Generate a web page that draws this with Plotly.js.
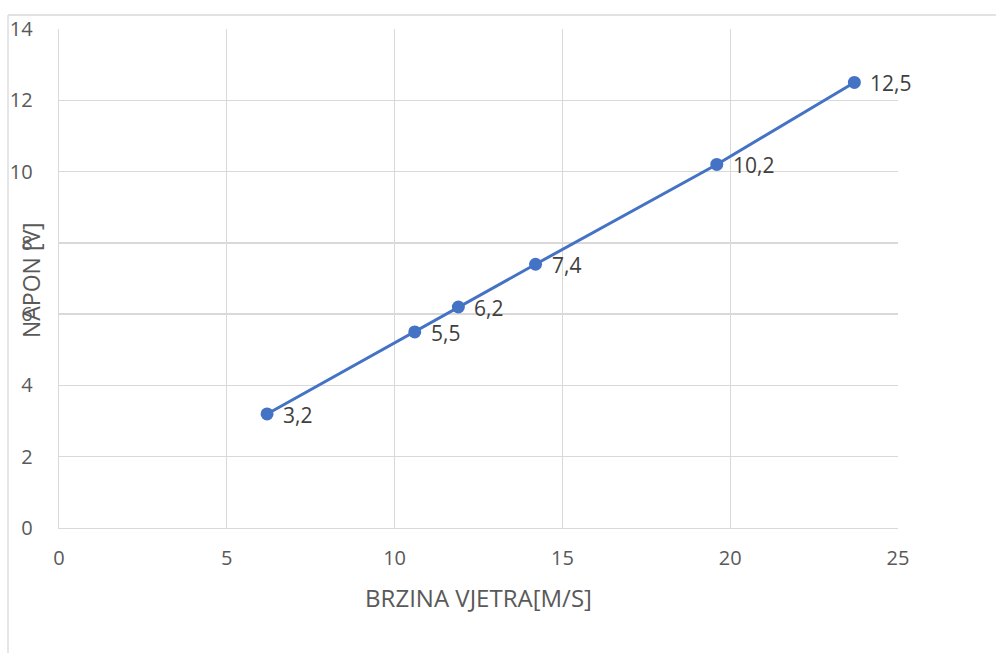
<!DOCTYPE html>
<html><head><meta charset="utf-8">
<script src="https://cdn.plot.ly/plotly-3.0.1.min.js"></script>
<style>html,body{margin:0;padding:0;background:#fff}#c{width:996px;height:653px}</style>
</head><body><div id="c"></div>
<script>
const windSpeed = [6.2, 10.6, 11.9, 14.2, 19.6, 23.7];
const voltage = [3.2, 5.5, 6.2, 7.4, 10.2, 12.5];
const xTitle = 'BRZINA VJETRA[M/S]';
const yTitle = 'NAPON [V]';

const FONT = '"Open Sans", sans-serif';
const trace = {
  x: windSpeed, y: voltage, type: 'scatter', mode: 'lines+markers',
  line: {color: '#4472C4', width: 3},
  marker: {color: '#4472C4', size: 13},
  hoverinfo: 'x+y', showlegend: false
};
const labelAnns = windSpeed.map((x, i) => ({
  x: x, y: voltage[i], xref: 'x', yref: 'y', showarrow: false,
  text: String(voltage[i]).replace('.', ','), xanchor: 'left', yanchor: 'middle',
  xshift: 14, yshift: -1, font: {family: FONT, size: 21, color: '#404040'}
}));
const layout = {
  width: 996, height: 653,
  margin: {l: 59, r: 98, t: 29, b: 125},
  paper_bgcolor: '#fff', plot_bgcolor: '#fff',
  font: {family: FONT, color: '#595959', size: 20},
  xaxis: {range: [0, 25], dtick: 5, tick0: 0, showgrid: true, gridcolor: '#d9d9d9', gridwidth: 1.3,
    zeroline: false, showline: true, linecolor: '#d9d9d9', linewidth: 1.3, mirror: false,
    ticks: '', ticklabelstandoff: 12, tickfont: {family: FONT, size: 20, color: '#595959'},
    title: {text: xTitle, font: {family: FONT, size: 24, color: '#595959'}, standoff: 20}},
  yaxis: {range: [0, 14], dtick: 2, tick0: 0, showgrid: true, gridcolor: '#d9d9d9', gridwidth: 1.3,
    zeroline: false, showline: true, linecolor: '#d9d9d9', linewidth: 1.3,
    ticks: '', ticklabelstandoff: 21, tickfont: {family: FONT, size: 20, color: '#595959'}},
  annotations: labelAnns.concat([{
    text: yTitle, textangle: -90, xref: 'paper', yref: 'paper',
    x: (31 - 59) / 839, y: (528 - 280) / 499, showarrow: false, xanchor: 'center', yanchor: 'middle',
    font: {family: FONT, size: 23, color: '#595959'}
  }]),
  shapes: [
    {type: 'line', xref: 'paper', yref: 'paper', x0: (8 - 59) / 839, x1: (8 - 59) / 839,
      y0: (528 - 653) / 499, y1: (528 - 15) / 499, line: {color: '#d9d9d9', width: 1.3}},
    {type: 'line', xref: 'paper', yref: 'paper', x0: (8 - 59) / 839, x1: (996 - 59) / 839,
      y0: (528 - 15) / 499, y1: (528 - 15) / 499, line: {color: '#d9d9d9', width: 1.3}}
  ]
};
Plotly.newPlot('c', [trace], layout, {displayModeBar: false, staticPlot: true});
</script></body></html>
